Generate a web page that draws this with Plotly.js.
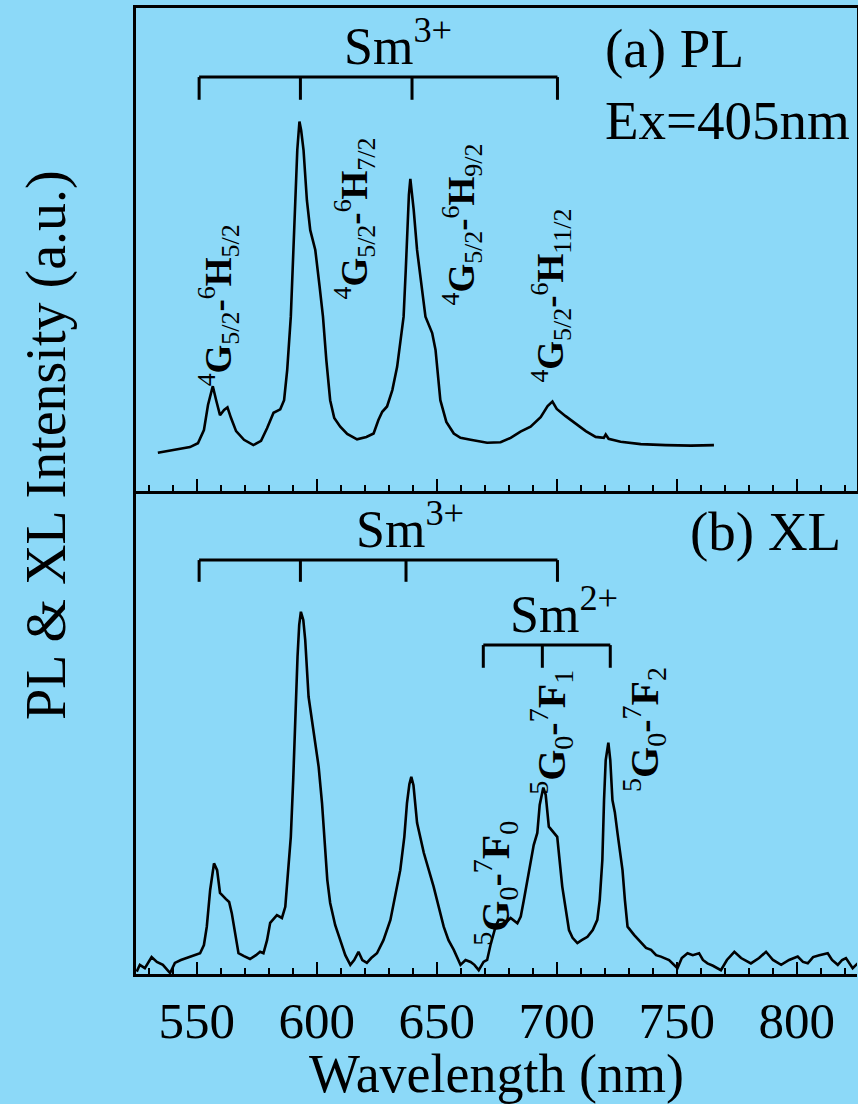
<!DOCTYPE html>
<html>
<head>
<meta charset="utf-8">
<script src="https://cdn.plot.ly/plotly-3.0.1.min.js"></script>
<style>html,body{margin:0;padding:0;background:#8CD9F8;}</style>
</head>
<body>
<div id="chart" style="width:858px;height:1104px;"></div>
<script>
// (a) PL spectrum, Ex = 405 nm
const wlPL = [533.8,540.9,547.2,550.5,553.0,554.7,556.7,558.1,559.7,561.4,562.8,564.3,566.4,569.7,573.6,576.8,579.3,582.0,584.8,586.4,587.7,589.2,590.2,591.0,591.9,592.8,593.5,594.5,595.9,597.3,599.4,601.2,602.6,604.0,605.6,607.3,609.8,612.7,616.8,620.7,623.7,625.7,627.3,629.3,631.5,633.5,634.9,636.2,637.1,637.6,638.4,639.0,639.6,640.4,641.8,643.9,645.3,648.1,649.5,651.5,654.0,657.1,659.9,664.1,671.0,676.6,680.8,684.9,689.1,693.3,696.2,698.2,700.0,703.7,707.9,712.1,716.2,719.6,720.4,721.6,726.6,735.0,745.4,755.9,765.5];
const intPL = [7.9,8.5,9.1,9.9,12.6,17.8,21.7,18.8,15.7,16.8,17.3,15.1,12.4,10.6,9.5,10.4,13.0,16.2,16.9,18.8,25.1,36.1,49.9,60.2,70.6,76.5,74.7,70.6,60.2,54.0,49.9,42.3,36.1,27.1,18.8,15.1,13.3,11.8,10.7,11.2,11.9,14.7,16.4,17.5,20.9,25.7,31.3,36.1,45.8,53.4,61.3,64.6,61.9,58.2,49.9,42.3,36.1,32.7,29.2,18.8,14.3,11.9,11.0,10.6,10.0,10.1,11.0,12.3,13.3,15.3,17.6,18.5,17.0,15.5,13.9,12.4,11.2,11.0,11.7,10.8,10.2,9.7,9.5,9.4,9.5];

// (b) XL spectrum
const wlXL = [525.0,526.3,528.4,531.2,533.4,535.9,538.9,540.9,543.4,545.8,548.5,551.4,553.0,554.2,555.6,557.2,558.5,559.7,562.2,563.5,564.6,566.0,567.4,569.7,572.2,574.7,576.4,577.8,579.3,580.6,583.4,585.5,586.9,588.1,589.2,590.2,591.0,592.0,592.7,593.4,594.4,595.2,596.6,598.7,600.8,602.2,603.1,604.4,605.6,607.7,609.8,611.9,614.0,615.6,617.4,619.0,620.9,622.7,625.1,627.8,630.7,632.8,634.8,636.5,637.6,638.6,639.4,640.3,640.7,641.8,644.6,648.7,652.9,654.9,657.1,659.9,662.0,664.1,665.7,667.5,669.5,671.0,672.4,674.5,675.8,677.3,679.1,680.8,683.6,685.0,686.3,687.9,689.1,690.4,691.9,692.9,694.4,695.4,696.7,698.8,700.2,702.3,703.7,705.1,706.6,708.6,710.4,712.8,715.0,716.9,717.9,719.0,719.7,720.4,721.5,722.3,723.2,724.2,725.3,726.3,727.4,728.4,729.5,732.2,735.1,737.2,739.3,741.4,743.4,746.8,750.3,752.1,754.5,756.7,759.3,760.9,762.8,765.1,768.4,770.9,774.0,776.8,780.9,784.3,787.2,790.1,793.5,796.8,800.4,802.6,804.6,806.8,809.4,812.9,814.7,817.1,818.9,820.5,823.3,825.4];
const intXL = [0.5,1.9,1.2,3.5,2.5,1.9,0.2,2.3,2.9,3.3,3.9,4.3,6.0,9.8,17.4,22.9,21.5,16.8,15.5,14.9,12.6,8.1,4.3,3.7,3.1,3.9,4.6,4.3,7.0,10.6,12.2,11.6,13.9,21.5,28.4,40.2,52.0,65.7,72.3,75.0,73.3,69.2,57.4,49.9,42.9,35.4,28.4,19.5,14.7,10.1,7.0,3.9,1.9,2.9,4.6,2.9,2.3,3.3,4.3,7.0,11.2,16.4,21.5,28.4,35.4,39.3,40.8,39.1,36.7,31.3,25.1,18.1,9.8,7.0,5.0,1.9,2.9,2.5,1.9,0.8,2.5,2.9,6.0,9.8,11.2,11.2,10.8,11.6,10.5,11.9,15.3,19.5,23.0,26.7,29.2,35.0,38.6,37.1,30.5,29.2,28.4,18.1,13.3,9.1,7.5,6.4,7.0,7.7,9.1,11.2,15.3,23.6,36.0,44.3,47.9,44.3,36.0,33.5,29.2,25.7,21.5,15.3,9.8,8.1,6.4,5.4,5.0,3.9,3.6,2.9,1.2,3.3,4.3,3.9,4.3,2.9,2.2,1.7,0.8,2.9,4.6,3.3,2.2,3.3,4.6,2.9,1.9,2.9,3.6,2.5,2.2,3.5,3.9,4.3,2.9,1.9,2.9,3.3,1.2,2.2];

// Transition groups (bracket tick wavelengths)
const sm3TopTicks = [551.0, 593.2, 639.7, 700.3];
const sm3BotTicks = [551.0, 593.2, 637.2, 700.3];
const sm2Ticks = [669.4, 694.0, 722.3];

const plLabels = [
  '<sup>4</sup><b>G</b><sub>5/2</sub><b>-</b><sup>6</sup><b>H</b><sub>5/2</sub>',
  '<sup>4</sup><b>G</b><sub>5/2</sub><b>-</b><sup>6</sup><b>H</b><sub>7/2</sub>',
  '<sup>4</sup><b>G</b><sub>5/2</sub><b>-</b><sup>6</sup><b>H</b><sub>9/2</sub>',
  '<sup>4</sup><b>G</b><sub>5/2</sub><b>-</b><sup>6</sup><b>H</b><sub>11/2</sub>'
];
const xlLabels = [
  '<sup>5</sup><b>G</b><sub>0</sub><b>-</b><sup>7</sup><b>F</b><sub>0</sub>',
  '<sup>5</sup><b>G</b><sub>0</sub><b>-</b><sup>7</sup><b>F</b><sub>1</sub>',
  '<sup>5</sup><b>G</b><sub>0</sub><b>-</b><sup>7</sup><b>F</b><sub>2</sub>'
];

const FONT = '"Liberation Serif", "Times New Roman", serif';
const BG = '#8CD9F8';

const traces = [
  {x: wlPL, y: intPL, xaxis: 'x2', yaxis: 'y2', mode: 'lines', line: {color: 'black', width: 2.6}, hoverinfo: 'skip'},
  {x: wlXL, y: intXL, xaxis: 'x', yaxis: 'y', mode: 'lines', line: {color: 'black', width: 2.6}, hoverinfo: 'skip'}
];

const shapes = [];
function bracket(ticks, yref, yLine, yEnd) {
  shapes.push({type: 'line', xref: 'x', yref: yref, x0: ticks[0], x1: ticks[ticks.length - 1], y0: yLine, y1: yLine, line: {color: 'black', width: 3}});
  ticks.forEach(t => shapes.push({type: 'line', xref: 'x', yref: yref, x0: t, x1: t, y0: yLine, y1: yEnd, line: {color: 'black', width: 3}}));
}
bracket(sm3TopTicks, 'y2', 85.7, 81.0);
bracket(sm3BotTicks, 'y', 85.7, 81.2);
bracket(sm2Ticks, 'y', 68.1, 63.4);

const annotations = [];
function txt(text, x, y, yref, size, opts) {
  annotations.push(Object.assign({text: text, x: x, y: y, xref: 'x', yref: yref, showarrow: false,
    font: {family: FONT, size: size, color: 'black'}}, opts || {}));
}
txt('Sm<sup>3+</sup>', 633.8, 85.7, 'y2', 52, {yanchor: 'bottom', xanchor: 'center'});
txt('Sm<sup>3+</sup>', 638.7, 85.7, 'y', 52, {yanchor: 'bottom', xanchor: 'center'});
txt('Sm<sup>2+</sup>', 702.9, 68.1, 'y', 52, {yanchor: 'bottom', xanchor: 'center'});
txt('(a) PL<br>Ex=405nm', 719.2, 98.4, 'y2', 55, {yanchor: 'top', xanchor: 'left', align: 'left'});
txt('(b) XL', 754.6, 98.4, 'y', 55, {yanchor: 'top', xanchor: 'left', align: 'left'});

const plPos = [[559.0, 38.5], [615.7, 56.5], [660.4, 55.1], [697.5, 40.4]];
plLabels.forEach((t, i) => txt(t, plPos[i][0], plPos[i][1], 'y2', 37, {textangle: -90}));
const xlPos = [[674.5, 18.8], [697.5, 50.1], [736.3, 50.7]];
xlLabels.forEach((t, i) => txt(t, xlPos[i][0], xlPos[i][1], 'y', 40, {textangle: -90}));

annotations.push({text: 'PL &amp; XL Intensity (a.u.)', xref: 'paper', yref: 'paper', x: -0.125, y: 0.5476,
  textangle: -90, showarrow: false, xanchor: 'center', yanchor: 'middle',
  font: {family: FONT, size: 56, color: 'black'}});

const xCommon = {
  range: [524.7, 825.1], showgrid: false, zeroline: false,
  showline: true, linecolor: 'black', linewidth: 3,
  ticks: 'inside', ticklen: 12, tickwidth: 2, tickcolor: 'black',
  tickmode: 'linear', tick0: 500, dtick: 50,
  minor: {ticks: 'inside', ticklen: 6, tickwidth: 2, tickcolor: 'black', dtick: 10, tick0: 500, showgrid: false}
};

const layout = {
  width: 858, height: 1104,
  margin: {l: 136, r: 1, t: 8, b: 130},
  paper_bgcolor: BG, plot_bgcolor: BG,
  showlegend: false,
  font: {family: FONT, color: 'black'},
  xaxis: Object.assign({}, xCommon, {
    anchor: 'y', mirror: false,
    tickfont: {family: FONT, size: 51, color: 'black'},
    title: {text: 'Wavelength (nm)', font: {family: FONT, size: 54, color: 'black'}, standoff: 10}
  }),
  xaxis2: Object.assign({}, xCommon, {
    anchor: 'y2', matches: 'x', mirror: true, showticklabels: false
  }),
  yaxis: {domain: [0, 0.5], range: [0, 100], showgrid: false, zeroline: false, showline: true,
    linecolor: 'black', linewidth: 3, ticks: '', showticklabels: false, mirror: false},
  yaxis2: {domain: [0.5, 1], range: [0, 100], showgrid: false, zeroline: false, showline: true,
    linecolor: 'black', linewidth: 3, ticks: '', showticklabels: false, mirror: true},
  shapes: shapes,
  annotations: annotations
};

Plotly.newPlot('chart', traces, layout, {staticPlot: true, displayModeBar: false});
</script>
</body>
</html>
